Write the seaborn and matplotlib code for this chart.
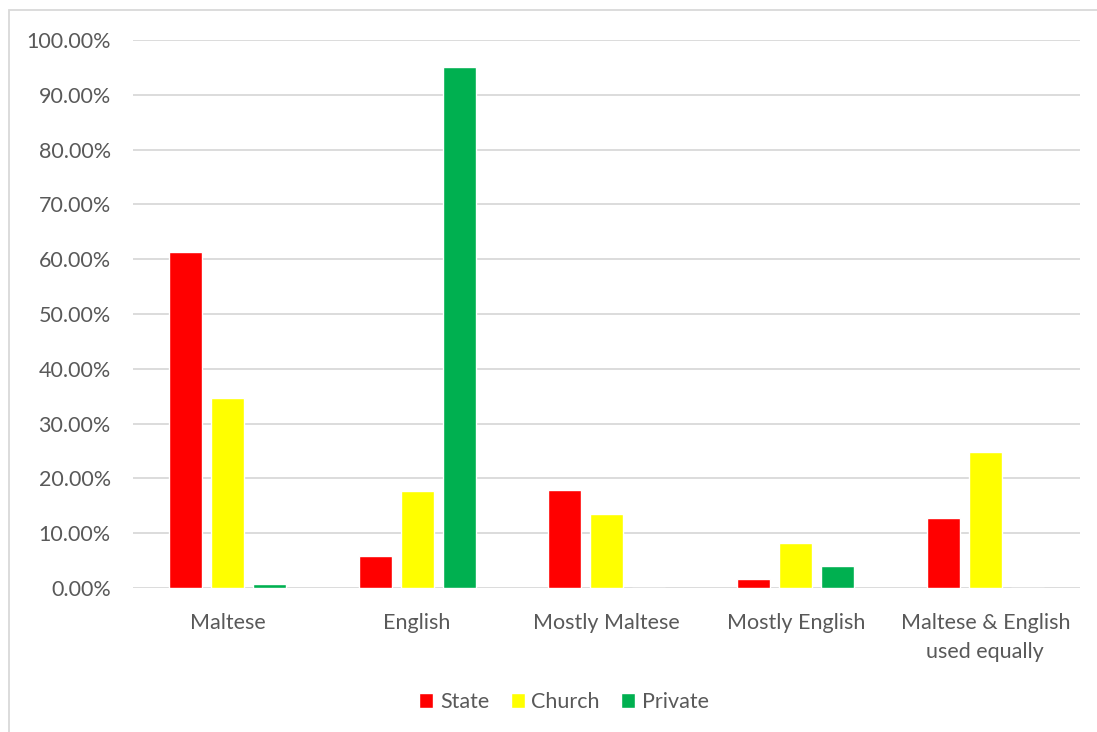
import matplotlib
matplotlib.use("Agg")
import matplotlib.pyplot as plt
import matplotlib.ticker as mticker
from matplotlib.patches import Rectangle
import pandas as pd
import seaborn as sns

categories = ["Maltese", "English", "Mostly Maltese", "Mostly English",
              "Maltese & English\nused equally"]
school_types = ["State", "Church", "Private"]
state = [0.614, 0.058, 0.179, 0.016, 0.127]
church = [0.346, 0.177, 0.135, 0.082, 0.248]
private = [0.007, 0.951, 0.0, 0.041, 0.0]
colors = ["#FF0000", "#FFFF00", "#00B050"]

rows = []
for name, vals in zip(school_types, [state, church, private]):
    for cat, v in zip(categories, vals):
        rows.append({"Language": cat, "School": name, "Share": v})
df = pd.DataFrame(rows)

sns.set_theme(style="white")
plt.rcParams["font.family"] = ["Lato", "DejaVu Sans"]
text_color = "#595959"
grid_color = "#D9D9D9"
fsize = 15.5

fig = plt.figure(figsize=(10.97, 7.32), dpi=100)
ax = fig.add_axes([133 / 1097, 1 - 588 / 732, (1080 - 133) / 1097, (588 - 40) / 732])

sns.barplot(data=df, x="Language", y="Share", hue="School", order=categories,
            hue_order=school_types, palette=colors, width=0.665, gap=0.215,
            saturation=1, ax=ax, legend=True)

ax.set_ylim(0, 1.0)
ax.set_xlim(-0.5, 4.5)
ax.yaxis.set_major_locator(mticker.MultipleLocator(0.1))
ax.yaxis.set_major_formatter(mticker.FuncFormatter(lambda v, p: f"{v * 100:.2f}%"))
ax.grid(axis="y", color=grid_color, linewidth=1.3)
ax.set_axisbelow(True)
for s in ax.spines.values():
    s.set_visible(False)
ax.tick_params(axis="both", length=0, colors=text_color, labelsize=fsize)
ax.tick_params(axis="y", pad=16)
ax.tick_params(axis="x", pad=18)
for lbl in ax.get_xticklabels():
    lbl.set_linespacing(1.55)
ax.set_xlabel("")
ax.set_ylabel("")

handles, labels = ax.get_legend_handles_labels()
ax.legend_.remove()
fig.legend(handles, labels, loc="center", bbox_to_anchor=(564 / 1097, 1 - 702 / 732),
           ncol=3, frameon=False, fontsize=fsize, labelcolor=text_color,
           handlelength=0.65, handleheight=0.65, handletextpad=0.3, columnspacing=1.0)

fig.patches.append(Rectangle((9 / 1097, -0.05), 1.1, 1 - 10 / 732 + 0.05,
                             transform=fig.transFigure, fill=False,
                             edgecolor=grid_color, linewidth=1.3))

fig.savefig("out.png", dpi=100)
